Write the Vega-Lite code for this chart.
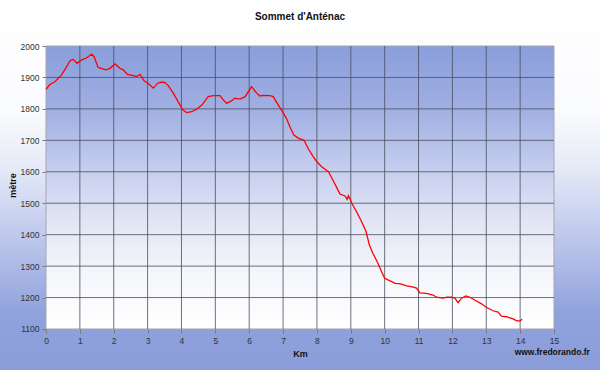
{
  "$schema": "https://vega.github.io/schema/vega-lite/v6.json",
  "width": 600,
  "height": 370,
  "autosize": {"type": "none"},
  "padding": 0,
  "background": "#ffffff",
  "title": {"text": "Sommet d'Anténac", "font": "Liberation Sans", "fontSize": 10, "fontWeight": "bold", "color": "#111111", "offset": -22, "anchor": "middle", "frame": "group"},
  "config": {
    "view": {"fill": {"gradient": "linear", "x1": 0, "y1": 0, "x2": 0, "y2": 1, "stops": [{"offset": 0, "color": "#ffffff"}, {"offset": 0.3, "color": "#fafbfe"}, {"offset": 0.45, "color": "#e6eaf7"}, {"offset": 0.65, "color": "#bcc6ec"}, {"offset": 0.85, "color": "#8fa2dc"}, {"offset": 1, "color": "#8a9dda"}]}, "stroke": null},
    "axis": {"labelFont": "Liberation Sans", "labelFontSize": 8.5, "labelColor": "#333333", "titleFont": "Liberation Sans", "titleFontSize": 9, "titleFontWeight": "bold", "titleColor": "#111111", "domain": false, "grid": false, "tickColor": "#777777", "tickSize": 4, "labelOverlap": false}
  },
  "datasets": {
    "profile": [
      {"km": 0.0, "m": 1862}, {"km": 0.1, "m": 1876}, {"km": 0.27, "m": 1887}, {"km": 0.46, "m": 1908},
      {"km": 0.6, "m": 1932}, {"km": 0.71, "m": 1953}, {"km": 0.8, "m": 1958}, {"km": 0.92, "m": 1945},
      {"km": 1.05, "m": 1956}, {"km": 1.18, "m": 1961}, {"km": 1.35, "m": 1974}, {"km": 1.42, "m": 1966},
      {"km": 1.54, "m": 1932}, {"km": 1.77, "m": 1924}, {"km": 1.89, "m": 1929}, {"km": 2.04, "m": 1943},
      {"km": 2.18, "m": 1929}, {"km": 2.28, "m": 1924}, {"km": 2.4, "m": 1910}, {"km": 2.58, "m": 1906},
      {"km": 2.67, "m": 1903}, {"km": 2.78, "m": 1910}, {"km": 2.89, "m": 1890}, {"km": 3.02, "m": 1881},
      {"km": 3.17, "m": 1866}, {"km": 3.29, "m": 1881}, {"km": 3.38, "m": 1885}, {"km": 3.51, "m": 1884},
      {"km": 3.61, "m": 1874}, {"km": 3.76, "m": 1850}, {"km": 3.9, "m": 1823}, {"km": 4.04, "m": 1797},
      {"km": 4.15, "m": 1788}, {"km": 4.3, "m": 1791}, {"km": 4.45, "m": 1799}, {"km": 4.6, "m": 1812},
      {"km": 4.79, "m": 1839}, {"km": 4.94, "m": 1842}, {"km": 5.14, "m": 1842}, {"km": 5.24, "m": 1828},
      {"km": 5.33, "m": 1818}, {"km": 5.43, "m": 1822}, {"km": 5.58, "m": 1834}, {"km": 5.73, "m": 1831},
      {"km": 5.88, "m": 1839}, {"km": 6.07, "m": 1871}, {"km": 6.22, "m": 1850}, {"km": 6.32, "m": 1841},
      {"km": 6.41, "m": 1843}, {"km": 6.61, "m": 1842}, {"km": 6.71, "m": 1839}, {"km": 6.86, "m": 1812},
      {"km": 7.0, "m": 1788}, {"km": 7.1, "m": 1770}, {"km": 7.2, "m": 1743}, {"km": 7.32, "m": 1717},
      {"km": 7.45, "m": 1707}, {"km": 7.62, "m": 1700}, {"km": 7.74, "m": 1674}, {"km": 7.89, "m": 1648},
      {"km": 8.0, "m": 1632}, {"km": 8.14, "m": 1616}, {"km": 8.34, "m": 1600}, {"km": 8.49, "m": 1570},
      {"km": 8.63, "m": 1540}, {"km": 8.68, "m": 1529}, {"km": 8.83, "m": 1523}, {"km": 8.89, "m": 1512},
      {"km": 8.93, "m": 1524}, {"km": 9.03, "m": 1500}, {"km": 9.17, "m": 1473}, {"km": 9.32, "m": 1441},
      {"km": 9.45, "m": 1410}, {"km": 9.55, "m": 1367}, {"km": 9.65, "m": 1341}, {"km": 9.78, "m": 1314},
      {"km": 9.91, "m": 1282}, {"km": 10.0, "m": 1261}, {"km": 10.16, "m": 1253}, {"km": 10.31, "m": 1245},
      {"km": 10.45, "m": 1244}, {"km": 10.65, "m": 1237}, {"km": 10.85, "m": 1233}, {"km": 10.94, "m": 1230},
      {"km": 11.04, "m": 1215}, {"km": 11.23, "m": 1213}, {"km": 11.43, "m": 1208}, {"km": 11.53, "m": 1201},
      {"km": 11.73, "m": 1198}, {"km": 11.83, "m": 1201}, {"km": 11.98, "m": 1201}, {"km": 12.07, "m": 1198},
      {"km": 12.17, "m": 1184}, {"km": 12.27, "m": 1198}, {"km": 12.4, "m": 1205}, {"km": 12.52, "m": 1201},
      {"km": 12.71, "m": 1189}, {"km": 12.86, "m": 1180}, {"km": 13.0, "m": 1169}, {"km": 13.2, "m": 1158},
      {"km": 13.35, "m": 1154}, {"km": 13.45, "m": 1141}, {"km": 13.6, "m": 1139}, {"km": 13.79, "m": 1132},
      {"km": 13.9, "m": 1126}, {"km": 14.0, "m": 1126}, {"km": 14.06, "m": 1131}
    ],
    "vgrid": [{"g": 1}, {"g": 2}, {"g": 3}, {"g": 4}, {"g": 5}, {"g": 6}, {"g": 7}, {"g": 8}, {"g": 9}, {"g": 10}, {"g": 11}, {"g": 12}, {"g": 13}, {"g": 14}],
    "hgrid": [{"h": 1200}, {"h": 1300}, {"h": 1400}, {"h": 1500}, {"h": 1600}, {"h": 1700}, {"h": 1800}, {"h": 1900}]
  },
  "layer": [
    {
      "data": {"values": [{}]},
      "mark": {"type": "rect", "stroke": "#a3a6b2", "strokeWidth": 1, "fill": {"gradient": "linear", "x1": 0, "y1": 0, "x2": 0, "y2": 1, "stops": [{"offset": 0, "color": "#8a9edb"}, {"offset": 0.22, "color": "#a0afe2"}, {"offset": 0.45, "color": "#c8d0ef"}, {"offset": 0.6, "color": "#dfe3f4"}, {"offset": 0.8, "color": "#f5f6fb"}, {"offset": 1, "color": "#ffffff"}]}},
      "encoding": {
        "x": {"datum": 0, "type": "quantitative", "scale": {"domain": [-1.3583, 16.3583], "nice": false, "zero": false}, "axis": {"title": "Km", "orient": "bottom", "offset": -41, "values": [0,1,2,3,4,5,6,7,8,9,10,11,12,13,14,15], "labelPadding": 3, "titlePadding": 5, "labelFlush": false, "labelOverlap": false}},
        "x2": {"datum": 15},
        "y": {"datum": 1100, "type": "quantitative", "scale": {"domain": [969.6, 2146.3], "nice": false, "zero": false}, "axis": {"title": "mètre", "orient": "left", "offset": -46, "values": [1100,1200,1300,1400,1500,1600,1700,1800,1900,2000], "format": "d", "labelPadding": 3, "titlePadding": 3, "labelFlush": false, "labelOverlap": false}},
        "y2": {"datum": 2000}
      }
    },
    {
      "data": {"name": "vgrid"},
      "mark": {"type": "rule", "color": "#4a4d5e", "strokeWidth": 1, "opacity": 0.8},
      "encoding": {
        "x": {"field": "g", "type": "quantitative", "axis": {"title": "Km", "orient": "bottom", "offset": -41, "values": [0,1,2,3,4,5,6,7,8,9,10,11,12,13,14,15], "labelPadding": 3, "titlePadding": 5, "labelFlush": false, "labelOverlap": false}},
        "y": {"datum": 1100, "type": "quantitative", "axis": {"title": "mètre", "orient": "left", "offset": -46, "values": [1100,1200,1300,1400,1500,1600,1700,1800,1900,2000], "format": "d", "labelPadding": 3, "titlePadding": 3, "labelFlush": false, "labelOverlap": false}},
        "y2": {"datum": 2000}
      }
    },
    {
      "data": {"name": "hgrid"},
      "mark": {"type": "rule", "color": "#4a4d5e", "strokeWidth": 1, "opacity": 0.8},
      "encoding": {
        "y": {"field": "h", "type": "quantitative", "axis": {"title": "mètre", "orient": "left", "offset": -46, "values": [1100,1200,1300,1400,1500,1600,1700,1800,1900,2000], "format": "d", "labelPadding": 3, "titlePadding": 3, "labelFlush": false, "labelOverlap": false}},
        "x": {"datum": 0, "type": "quantitative", "axis": {"title": "Km", "orient": "bottom", "offset": -41, "values": [0,1,2,3,4,5,6,7,8,9,10,11,12,13,14,15], "labelPadding": 3, "titlePadding": 5, "labelFlush": false, "labelOverlap": false}},
        "x2": {"datum": 15}
      }
    },
    {
      "data": {"name": "profile"},
      "mark": {"type": "line", "color": "#ff0000", "strokeWidth": 1.3},
      "encoding": {
        "x": {"field": "km", "type": "quantitative", "axis": {"title": "Km", "orient": "bottom", "offset": -41, "values": [0,1,2,3,4,5,6,7,8,9,10,11,12,13,14,15], "labelPadding": 3, "titlePadding": 5, "labelFlush": false, "labelOverlap": false}},
        "y": {"field": "m", "type": "quantitative", "axis": {"title": "mètre", "orient": "left", "offset": -46, "values": [1100,1200,1300,1400,1500,1600,1700,1800,1900,2000], "format": "d", "labelPadding": 3, "titlePadding": 3, "labelFlush": false, "labelOverlap": false}}
      }
    },
    {
      "data": {"values": [{"label": "www.fredorando.fr"}]},
      "mark": {"type": "text", "align": "right", "baseline": "middle", "font": "Liberation Sans", "fontSize": 8.5, "fontWeight": "bold", "color": "#111111"},
      "encoding": {
        "x": {"datum": 16.06, "type": "quantitative", "axis": {"title": "Km", "orient": "bottom", "offset": -41, "values": [0,1,2,3,4,5,6,7,8,9,10,11,12,13,14,15], "labelPadding": 3, "titlePadding": 5, "labelFlush": false, "labelOverlap": false}},
        "y": {"datum": 1027, "type": "quantitative", "axis": {"title": "mètre", "orient": "left", "offset": -46, "values": [1100,1200,1300,1400,1500,1600,1700,1800,1900,2000], "format": "d", "labelPadding": 3, "titlePadding": 3, "labelFlush": false, "labelOverlap": false}},
        "text": {"field": "label"}
      }
    }
  ]
}
